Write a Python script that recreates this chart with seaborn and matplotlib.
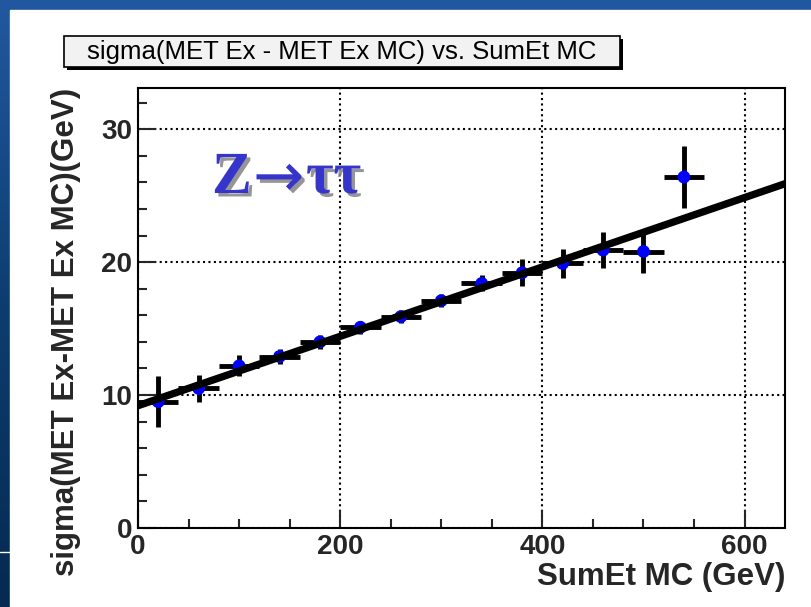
import numpy as np
import pandas as pd
import matplotlib
matplotlib.use('Agg')
import matplotlib.pyplot as plt
import matplotlib.patheffects as pe
from matplotlib.patches import Rectangle
from matplotlib.colors import LinearSegmentedColormap
from matplotlib.ticker import MultipleLocator
import seaborn as sns

# ---------------- data ----------------
sumet_mc = [20, 60, 100, 140, 180, 220, 260, 300, 340, 380, 420, 460, 500, 540]
sigma_ex = [9.5, 10.5, 12.2, 12.9, 14.0, 15.1, 15.9, 17.1, 18.4, 19.2, 19.9, 20.9, 20.8, 26.4]
sigma_err = [1.9, 1.0, 0.8, 0.6, 0.5, 0.5, 0.5, 0.5, 0.6, 1.0, 1.1, 1.35, 1.65, 2.3]
bin_half_width = [20, 20, 20, 20, 20, 20, 20, 20, 20, 20, 20, 20, 20, 20]
fit_x = [0, 640]
fit_y = [9.2, 25.9]

title = "sigma(MET Ex - MET Ex MC) vs. SumEt MC"
xlabel = "SumEt MC (GeV)"
ylabel = "sigma(MET Ex-MET Ex MC)(GeV)"
x_ticks = [0, 200, 400, 600]
y_ticks = [0, 10, 20, 30]
annotation_parts = ["Z", "\u2192", "\u03c4\u03c4"]

# ---------------- style ----------------
sns.set_style('ticks')
plt.rcParams['font.family'] = ['Liberation Sans', 'DejaVu Sans']

W, H = 812, 607
fig = plt.figure(figsize=(W / 100, H / 100), dpi=100)

# slide background (blue gradient) with white page
bg = fig.add_axes([0, 0, 1, 1], zorder=-10)
grad = np.linspace(0, 1, 256)[:, None]
cmap = LinearSegmentedColormap.from_list('slide', ['#22589f', '#0d3d70', '#062a50'])
bg.imshow(grad, aspect='auto', cmap=cmap, extent=[0, 1, 0, 1])
bg.add_patch(Rectangle((10 / W, 0), 1, 1 - 10 / H, color='white', zorder=2))
bg.plot([0, 10 / W], [1 - 552 / H] * 2, color='white', lw=1, zorder=3)
# title box with shadow
bx0, bx1, by0, by1 = 64, 620, 36, 67
bg.add_patch(Rectangle(((bx0 + 3) / W, 1 - (by1 + 3) / H), (bx1 - bx0) / W, (by1 - by0) / H,
                       facecolor='black', edgecolor='none', zorder=4))
bg.add_patch(Rectangle((bx0 / W, 1 - by1 / H), (bx1 - bx0) / W, (by1 - by0) / H,
                       facecolor='#f2f2f2', edgecolor='black', lw=1.2, zorder=5))
bg.set_xlim(0, 1)
bg.set_ylim(0, 1)
bg.axis('off')

fig.text((bx0 + bx1) / 2 / W, 1 - (by0 + by1) / 2 / H, title, ha='center', va='center',
         fontsize=18.5, color='black', zorder=10)

# ---------------- main axes ----------------
ax = fig.add_axes([138 / W, 1 - 528 / H, (785 - 138) / W, (528 - 88) / H])
ax.set_facecolor('white')

df = pd.DataFrame({'sumet': sumet_mc, 'sigma': sigma_ex, 'err': sigma_err, 'xerr': bin_half_width})

ax.errorbar(df['sumet'], df['sigma'], xerr=df['xerr'], yerr=df['err'], fmt='none',
            ecolor='black', elinewidth=3.5, capsize=0, zorder=2)
sns.scatterplot(data=df, x='sumet', y='sigma', ax=ax, color='#0000ff', s=85,
                edgecolor='none', linewidth=0, zorder=3, legend=False)
sns.lineplot(x=fit_x, y=fit_y, ax=ax, color='black', lw=5.3, zorder=4, legend=False)

ax.set_xlim(0, 640)
ax.set_ylim(0, 33.1)
ax.set_xticks(x_ticks)
ax.set_yticks(y_ticks)
ax.xaxis.set_minor_locator(MultipleLocator(50))
ax.yaxis.set_minor_locator(MultipleLocator(2))
ax.tick_params(which='major', direction='in', length=13, width=1.5, labelsize=20, pad=4,
               top=False, right=False)
ax.tick_params(which='minor', direction='in', length=6.5, width=1.5, top=False, right=False)
for lab in ax.get_xticklabels() + ax.get_yticklabels():
    lab.set_fontweight('bold')

ax.grid(True, which='major', color='black', linestyle=(0, (1, 1.6)), lw=1.5)
for s in ax.spines.values():
    s.set_visible(True)
    s.set_linewidth(1.5)
    s.set_color('black')

ax.set_xlabel(xlabel, fontsize=22.5, fontweight='bold', loc='right', labelpad=2)
ax.set_ylabel(ylabel, fontsize=22.5, fontweight='bold', loc='top', labelpad=15)

# Z -> tau tau label
shadow = [pe.withSimplePatchShadow(offset=(2.5, -2.5), shadow_rgbFace='#8a8a8a', alpha=0.9)]
blue = '#3535cc'
base_y = 1 - 193 / H
fig.text(212 / W, base_y, annotation_parts[0], ha='left', va='baseline', fontsize=43,
         fontweight='bold', family=['Liberation Serif', 'DejaVu Serif'], color=blue,
         path_effects=shadow)
fig.text(253 / W, 1 - 196 / H, annotation_parts[1], ha='left', va='baseline', fontsize=44,
         fontweight='normal', family=['DejaVu Sans'], color=blue,
         path_effects=shadow)
fig.text(306 / W, base_y, annotation_parts[2], ha='left', va='baseline', fontsize=43,
         fontweight='bold', family=['Liberation Serif', 'DejaVu Serif'], color=blue,
         path_effects=shadow)

fig.savefig('out.png', dpi=100)
